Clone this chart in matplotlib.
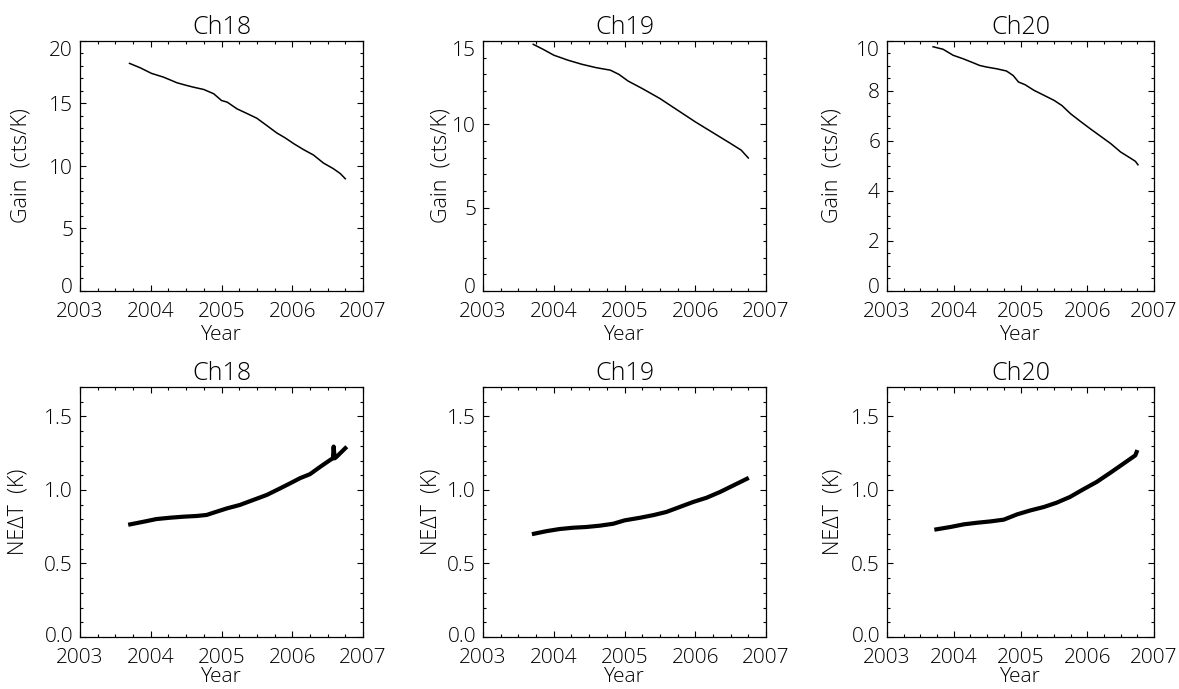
import matplotlib
matplotlib.use("Agg")
import matplotlib.pyplot as plt
from matplotlib.ticker import MultipleLocator, FixedLocator
from matplotlib.transforms import ScaledTranslation

# ---------------- data ----------------
channels = ["Ch18", "Ch19", "Ch20"]

gain18_year = [2003.70, 2003.85, 2004.01, 2004.18, 2004.37, 2004.49, 2004.60, 2004.75,
               2004.89, 2005.00, 2005.08, 2005.22, 2005.36, 2005.50, 2005.64, 2005.78,
               2005.90, 2006.02, 2006.16, 2006.30, 2006.44, 2006.58, 2006.68, 2006.75]
gain18 = [18.21, 17.86, 17.41, 17.11, 16.66, 16.47, 16.31, 16.12,
          15.78, 15.24, 15.11, 14.57, 14.20, 13.82, 13.24, 12.65,
          12.25, 11.79, 11.31, 10.88, 10.24, 9.79, 9.39, 8.98]

gain19_year = [2003.71, 2003.85, 2004.00, 2004.20, 2004.40, 2004.60, 2004.80, 2004.92,
               2005.05, 2005.25, 2005.50, 2005.75, 2006.00, 2006.25, 2006.50, 2006.65, 2006.75]
gain19 = [14.80, 14.50, 14.15, 13.85, 13.60, 13.40, 13.25, 13.00,
          12.60, 12.15, 11.55, 10.85, 10.15, 9.50, 8.85, 8.45, 7.98]

gain20_year = [2003.69, 2003.84, 2003.99, 2004.14, 2004.29, 2004.39, 2004.49, 2004.64,
               2004.79, 2004.89, 2004.97, 2005.07, 2005.20, 2005.35, 2005.50, 2005.62,
               2005.75, 2005.90, 2006.05, 2006.20, 2006.35, 2006.50, 2006.65, 2006.72, 2006.76]
gain20 = [9.77, 9.67, 9.43, 9.29, 9.13, 9.02, 8.96, 8.89,
          8.80, 8.62, 8.36, 8.25, 8.03, 7.83, 7.63, 7.42,
          7.09, 6.78, 6.48, 6.19, 5.90, 5.56, 5.31, 5.19, 5.05]

nedt18_year = [2003.71, 2003.90, 2004.08, 2004.27, 2004.46, 2004.65, 2004.79, 2004.93,
               2005.08, 2005.26, 2005.45, 2005.64, 2005.83, 2005.97, 2006.11, 2006.25,
               2006.40, 2006.54, 2006.575, 2006.585, 2006.60, 2006.63, 2006.75]
nedt18 = [0.766, 0.784, 0.802, 0.811, 0.818, 0.823, 0.830, 0.852,
          0.875, 0.898, 0.932, 0.966, 1.011, 1.045, 1.080, 1.107,
          1.159, 1.205, 1.215, 1.295, 1.215, 1.227, 1.284]

nedt19_year = [2003.72, 2003.90, 2004.08, 2004.27, 2004.46, 2004.65, 2004.84, 2005.00,
               2005.22, 2005.41, 2005.59, 2005.78, 2005.97, 2006.16, 2006.35, 2006.54, 2006.73]
nedt19 = [0.702, 0.720, 0.734, 0.743, 0.748, 0.757, 0.770, 0.793,
          0.811, 0.829, 0.850, 0.884, 0.918, 0.947, 0.986, 1.031, 1.076]

nedt20_year = [2003.74, 2003.95, 2004.15, 2004.35, 2004.55, 2004.75, 2004.95, 2005.15,
               2005.35, 2005.54, 2005.74, 2005.94, 2006.14, 2006.34, 2006.54, 2006.72, 2006.74]
nedt20 = [0.732, 0.748, 0.766, 0.777, 0.786, 0.798, 0.834, 0.861,
          0.884, 0.913, 0.952, 1.004, 1.054, 1.115, 1.178, 1.235, 1.258]

gain_years = [gain18_year, gain19_year, gain20_year]
gain_vals = [gain18, gain19, gain20]
nedt_years = [nedt18_year, nedt19_year, nedt20_year]
nedt_vals = [nedt18, nedt19, nedt20]

gain_ticks = [[0, 5, 10, 15, 20], [0, 5, 10, 15], [0, 2, 4, 6, 8, 10]]
gain_ymax = [20, 15, 10]
gain_minor = [1, 1, 0.5]
nedt_ticks = [0.0, 0.5, 1.0, 1.5]
nedt_ticklabels = ["0.0", "0.5", "1.0", "1.5"]
year_ticks = [2003, 2004, 2005, 2006, 2007]

# ---------------- layout ----------------
W, H = 1179, 689
fig = plt.figure(figsize=(W / 100, H / 100), dpi=100)
plt.rcParams['font.family'] = ['Open Sans', 'DejaVu Sans']
plt.rcParams['font.weight'] = 'light'
plt.rcParams['axes.titleweight'] = 'light'
plt.rcParams['axes.labelweight'] = 'light'

FS_TICK = 15
FS_TITLE = 18
FS_LABEL = 15

cols = [(80, 363), (483, 766), (887, 1154)]
rows = [(41, 291), (387, 637)]
ylab_x = [[21, 441, 832], [18, 431, 833]]
xlab_pad = [2, -1]


def style_axes(ax, ylab, ylx, top_shift, bot_shift, xpad):
    ax.tick_params(which='both', direction='in', top=True, right=True,
                   labelsize=FS_TICK, width=0.8, colors='black')
    ax.tick_params(which='major', length=4.5, pad=5)
    ax.tick_params(which='minor', length=2.3)
    ax.tick_params(axis='x', which='major', pad=8)
    for s in ax.spines.values():
        s.set_linewidth(0.9)
    ax.xaxis.set_major_locator(FixedLocator(year_ticks))
    ax.xaxis.set_minor_locator(MultipleLocator(0.25))
    ax.set_xlim(2003, 2007)
    ax.set_xlabel("Year", fontsize=FS_LABEL, fontweight='light', labelpad=xpad)
    ax.set_ylabel(ylab, fontsize=FS_LABEL + 0.5, fontweight='light')
    ax.yaxis.label.set_va('center')
    bb = ax.get_position()
    ax.yaxis.set_label_coords((ylx / W - bb.x0) / bb.width, 0.5)
    ticks = ax.yaxis.get_major_ticks()
    ticks[-1].label1.set_transform(ticks[-1].label1.get_transform() +
                                   ScaledTranslation(0, -top_shift / 100, fig.dpi_scale_trans))
    ticks[0].label1.set_transform(ticks[0].label1.get_transform() +
                                  ScaledTranslation(0, bot_shift / 100, fig.dpi_scale_trans))


for r, (y0, y1) in enumerate(rows):
    for c, (x0, x1) in enumerate(cols):
        ax = fig.add_axes([x0 / W, 1 - y1 / H, (x1 - x0) / W, (y1 - y0) / H])
        ax.set_title(channels[c], fontsize=FS_TITLE, fontweight='light', pad=5)
        if r == 0:
            ax.plot(gain_years[c], gain_vals[c], color='black', lw=1.1)
            ax.set_ylim(0, gain_ymax[c])
            ax.yaxis.set_major_locator(FixedLocator(gain_ticks[c]))
            ax.yaxis.set_minor_locator(MultipleLocator(gain_minor[c]))
            style_axes(ax, "Gain  (cts/K)", ylab_x[r][c], 8, 5, xlab_pad[r])
        else:
            ax.plot(nedt_years[c], nedt_vals[c], color='black', lw=3.0)
            ax.set_ylim(0, 1.7)
            ax.yaxis.set_major_locator(FixedLocator(nedt_ticks))
            ax.yaxis.set_minor_locator(MultipleLocator(0.1))
            ax.set_yticklabels(nedt_ticklabels)
            style_axes(ax, "NE\u0394T  (K)", ylab_x[r][c], 0, 2, xlab_pad[r])

fig.savefig("out.png", dpi=100)
